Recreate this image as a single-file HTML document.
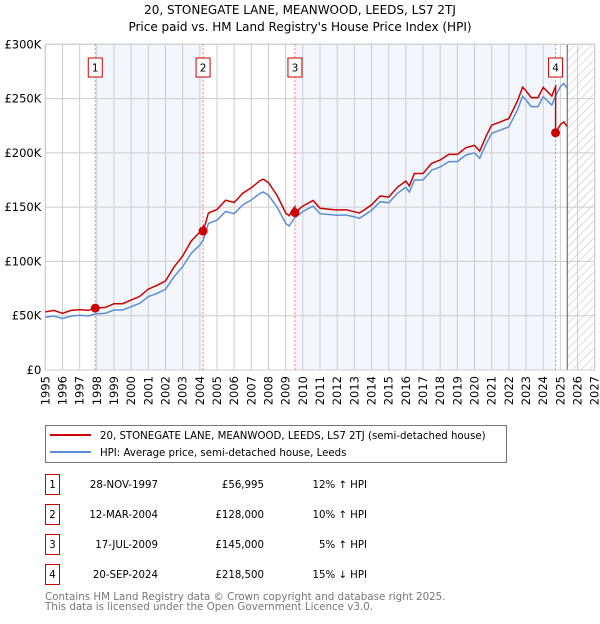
<!DOCTYPE html>
<html><head><meta charset="utf-8"><style>
body{margin:0;background:#fff;font-family:"DejaVu Sans","Liberation Sans",sans-serif;}
svg text{font-family:"DejaVu Sans","Liberation Sans",sans-serif;}
</style></head><body>
<svg id="chart" width="600" height="620" xmlns="http://www.w3.org/2000/svg">
<defs><pattern id="hatch" width="6" height="6" patternUnits="userSpaceOnUse" patternTransform="rotate(45)"><line x1="0" y1="0" x2="0" y2="6" stroke="#bbb" stroke-width="1"/></pattern></defs>
<text x="300" y="14" text-anchor="middle" font-size="12">20, STONEGATE LANE, MEANWOOD, LEEDS, LS7 2TJ</text>
<text x="300" y="31" text-anchor="middle" font-size="12">Price paid vs. HM Land Registry's House Price Index (HPI)</text>
<g id="plot"></g>
<g>
<rect x="45.5" y="425.5" width="461" height="37" fill="#fff" stroke="#777"/>
<line x1="50" y1="435" x2="91" y2="435" stroke="#cc0000" stroke-width="2"/>
<text x="100" y="439" font-size="10.2">20, STONEGATE LANE, MEANWOOD, LEEDS, LS7 2TJ (semi-detached house)</text>
<line x1="50" y1="452" x2="91" y2="452" stroke="#5b8ed6" stroke-width="2"/>
<text x="100" y="456" font-size="10.2">HPI: Average price, semi-detached house, Leeds</text>
</g>
<g id="table" font-size="10.2"></g>
<text x="45" y="600" font-size="10.3" fill="#777">Contains HM Land Registry data © Crown copyright and database right 2025.</text>
<text x="45" y="610" font-size="10.3" fill="#777">This data is licensed under the Open Government Licence v3.0.</text>
</svg>
<script>
const hpiYears=[1995,1995.5,1996,1996.5,1997,1997.5,1997.9,1998.5,1999,1999.5,2000,2000.5,2001,2001.5,2002,2002.5,2003,2003.5,2004,2004.2,2004.5,2005,2005.5,2006,2006.5,2007,2007.5,2007.7,2008,2008.5,2009,2009.2,2009.5,2010,2010.6,2011,2012,2012.5,2013,2013.3,2014,2014.5,2015,2015.5,2016,2016.2,2016.5,2017,2017.5,2018,2018.5,2019,2019.5,2020,2020.3,2020.7,2021,2021.5,2022,2022.5,2022.8,2023,2023.3,2023.7,2024,2024.5,2024.7,2025,2025.2,2025.4];
const hpiValues=[48.5,49.7,47.3,49.7,50.4,49.7,51.6,52.2,55.3,55.3,58.3,61.4,67.5,70.6,74.3,86,95.2,107.5,115,119.7,135,138,146,144,152,156.6,162.7,164,161,150,135,132.6,139.7,146,151,144,142.5,142.8,141,139.7,147,155,154,162.7,168.3,164,175,175,184,187,192,192,198,200,195,209,218,221,224,239.5,252,248.7,242.6,242.6,251.7,244,251.7,261,264,259];
const saleYears=[1997.91,2004.19,2009.54,2024.72];
const salePrices=[56.995,128,145,218.5];
const saleDates=["28-NOV-1997","12-MAR-2004","17-JUL-2009","20-SEP-2024"];
const salePriceLabels=["£56,995","£128,000","£145,000","£218,500"];
const saleHpiLabels=["12% ↑ HPI","10% ↑ HPI","5% ↑ HPI","15% ↓ HPI"];
const yTicks=[0,50,100,150,200,250,300];
const yTickLabels=["£0","£50K","£100K","£150K","£200K","£250K","£300K"];

const X0=45.3,X1=594.7,Y0=370,Y1=44.3,NS="http://www.w3.org/2000/svg";
const xs=y=>X0+(y-1995)*(X1-X0)/32;
const ys=v=>Y0-v*(Y0-Y1)/300;
const plot=document.getElementById('plot');
function mk(tag,attrs,parent){const e=document.createElementNS(NS,tag);for(const k in attrs)e.setAttribute(k,attrs[k]);(parent||plot).appendChild(e);return e;}
function hpiAt(t){for(let i=0;i<hpiYears.length-1;i++){if(t<=hpiYears[i+1]){const f=(t-hpiYears[i])/(hpiYears[i+1]-hpiYears[i]);return hpiValues[i]+f*(hpiValues[i+1]-hpiValues[i]);}}return hpiValues[hpiValues.length-1];}

const bg=mk('rect',{x:X0,y:Y1,width:X1-X0,height:Y0-Y1,fill:'#fff'});


[[0,1],[2,3]].forEach(p=>{const r=mk('rect',{x:xs(saleYears[p[0]]),y:Y1,width:xs(saleYears[p[1]])-xs(saleYears[p[0]]),height:Y0-Y1,fill:'#f3f6fd'});

});
const endX=xs(hpiYears[hpiYears.length-1]);
const hz=mk('rect',{x:endX,y:Y1,width:X1-endX,height:Y0-Y1,fill:'url(#hatch)'});


for(let y=1995;y<=2027;y++){const l=mk('line',{x1:xs(y),x2:xs(y),y1:Y1,y2:Y0,stroke:'#ccc','stroke-width':1});


const t=mk('text',{x:0,y:0,'font-size':11.5,'text-anchor':'end',transform:`translate(${xs(y)+4},${Y0+6}) rotate(-90)`});t.textContent=y;

}
yTicks.forEach((v,i)=>{const l=mk('line',{x1:X0,x2:X1,y1:ys(v),y2:ys(v),stroke:'#ccc','stroke-width':1});


const t=mk('text',{x:X0-4,y:ys(v)+4,'font-size':11.5,'text-anchor':'end'});t.textContent=yTickLabels[i];

});
const el=mk('line',{x1:endX,x2:endX,y1:Y1,y2:Y0,stroke:'#555','stroke-width':1});


const fr=mk('rect',{x:X0,y:Y1,width:X1-X0,height:Y0-Y1,fill:'none',stroke:'#ccc'});



saleYears.forEach((s,i)=>{const l=mk('line',{x1:xs(s),x2:xs(s),y1:Y1,y2:Y0,stroke:'#f77','stroke-width':1,'stroke-dasharray':'2,2'});


const bx=xs(s)-7;const r=mk('rect',{x:bx,y:58,width:14,height:19,fill:'#fff',stroke:'#cc0000'});


const t=mk('text',{x:xs(s),y:71.5,'font-size':10.5,'text-anchor':'middle'});t.textContent=i+1;

});

let d='';hpiYears.forEach((y,i)=>{d+=(i?'L':'M')+xs(y).toFixed(1)+','+ys(hpiValues[i]).toFixed(1);});
const hl=mk('path',{d:d,fill:'none',stroke:'#5b8ed6','stroke-width':1.5});


function segIdx(t){let k=0;for(let i=0;i<saleYears.length;i++)if(t>=saleYears[i])k=i;return k;}
const times=hpiYears.concat(saleYears).sort((a,b)=>a-b);
let pd='';times.forEach((t,j)=>{const k=segIdx(t);const v=salePrices[k]*hpiAt(t)/hpiAt(saleYears[k]);
if(saleYears.includes(t)&&k>0){const pv=salePrices[k-1]*hpiAt(t)/hpiAt(saleYears[k-1]);pd+='L'+xs(t).toFixed(1)+','+ys(pv).toFixed(1);}
pd+=(j?'L':'M')+xs(t).toFixed(1)+','+ys(v).toFixed(1);});
const pl=mk('path',{d:pd,fill:'none',stroke:'#cc0000','stroke-width':1.5});


saleYears.forEach((s,i)=>{const c=mk('circle',{cx:xs(s),cy:ys(salePrices[i]),r:4.5,fill:'#cc0000'});

});

const tb=document.getElementById('table');
saleYears.forEach((s,i)=>{const cy=484+i*30;
const r=mk('rect',{x:45.5,y:cy-9.5,width:14,height:20,fill:'#fff',stroke:'#cc0000'},tb);


const n=mk('text',{x:52.5,y:cy+4,'text-anchor':'middle'},tb);n.textContent=i+1;


const a=mk('text',{x:158,y:cy+4,'text-anchor':'end'},tb);a.textContent=saleDates[i];


const b=mk('text',{x:264,y:cy+4,'text-anchor':'end'},tb);b.textContent=salePriceLabels[i];


const c=mk('text',{x:367,y:cy+4,'text-anchor':'end'},tb);c.textContent=saleHpiLabels[i];

});
</script>
</body></html>
